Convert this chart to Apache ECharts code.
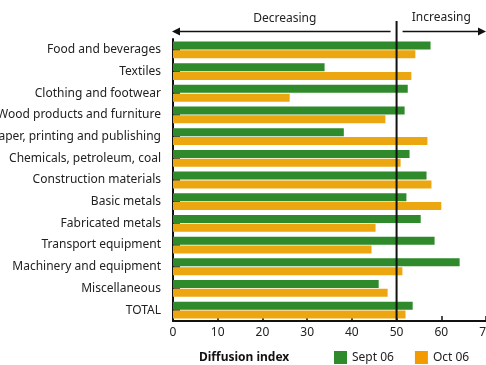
<!DOCTYPE html>
<html>
<head>
<meta charset="utf-8">
<script src="https://cdn.jsdelivr.net/npm/echarts@6/dist/echarts.min.js"></script>
<style>
    html, body { margin: 0; padding: 0; background: #fff; }
    #chart { width: 486px; height: 365px; }
</style>
</head>
<body>
<div id="chart"></div>
<script>
var categories = ["Food and beverages", "Textiles", "Clothing and footwear", "Wood products and furniture",
    "Paper, printing and publishing", "Chemicals, petroleum, coal", "Construction materials", "Basic metals",
    "Fabricated metals", "Transport equipment", "Machinery and equipment", "Miscellaneous", "TOTAL"];
var sept06 = [57.6, 33.9, 52.5, 51.8, 38.2, 52.9, 56.7, 52.2, 55.4, 58.5, 64.1, 46.0, 53.6];
var oct06 = [54.2, 53.3, 26.1, 47.5, 56.9, 50.9, 57.8, 60.0, 45.3, 44.4, 51.3, 48.0, 52.0];
var xTicks = [0, 10, 20, 30, 40, 50, 60, 70];
var threshold = 50;

var FONT = "Noto Sans";
var GREEN = "#2e8a2a";
var ORANGE = "#eca610";

var chart = echarts.init(document.getElementById("chart"));

chart.setOption({
    animation: false,
    textStyle: {fontFamily: FONT},
    grid: {left: 173, right: 0, top: 39, bottom: 44, containLabel: false, outerBoundsMode: "none"},
    xAxis: {
        type: "value",
        min: xTicks[0],
        max: xTicks[xTicks.length - 1],
        interval: 10,
        splitLine: {show: false},
        axisLine: {show: true, lineStyle: {color: "#111", width: 2}},
        axisTick: {show: true, inside: true, length: 5, lineStyle: {color: "#111", width: 1.5}},
        axisLabel: {color: "#222", fontSize: 12, margin: 6, fontFamily: FONT, hideOverlap: false}
    },
    yAxis: {
        type: "category",
        data: categories,
        inverse: true,
        axisLine: {show: true, lineStyle: {color: "#111", width: 2}},
        axisTick: {show: true, inside: true, alignWithLabel: true, length: 7, lineStyle: {color: "#111", width: 1.5}},
        axisLabel: {color: "#222", fontSize: 12, margin: 12, fontFamily: FONT}
    },
    legend: {
        left: 334,
        top: 351,
        padding: 0,
        itemWidth: 13,
        itemHeight: 13,
        itemGap: 21,
        icon: "rect",
        textStyle: {color: "#222", fontSize: 12, fontFamily: FONT},
        data: [
            {name: "Sept 06", itemStyle: {color: "#2f8a2b"}},
            {name: "Oct 06", itemStyle: {color: "#f39a00"}}
        ]
    },
    series: [
        {name: "Sept 06", type: "bar", data: sept06, barWidth: 8, barGap: "10%", itemStyle: {color: GREEN}},
        {name: "Oct 06", type: "bar", data: oct06, barWidth: 8, itemStyle: {color: ORANGE}}
    ]
});

// annotations: threshold line and the decreasing / increasing arrows
var x0 = chart.convertToPixel({xAxisIndex: 0}, xTicks[0]);
var x50 = chart.convertToPixel({xAxisIndex: 0}, threshold);
var xEnd = chart.convertToPixel({xAxisIndex: 0}, xTicks[xTicks.length - 1]);
var yBottom = 365 - 44;
var yArrow = 31.5;

chart.setOption({
    graphic: [
        {type: "line", z: 100, shape: {x1: x50, y1: 21, x2: x50, y2: yBottom}, style: {stroke: "#111", lineWidth: 2}},
        {type: "line", z: 100, shape: {x1: x0 + 4, y1: yArrow, x2: x50 - 6, y2: yArrow}, style: {stroke: "#111", lineWidth: 1.5}},
        {type: "polygon", z: 100, shape: {points: [[x0 - 1, yArrow], [x0 + 7, yArrow - 4], [x0 + 7, yArrow + 4]]}, style: {fill: "#111"}},
        {type: "line", z: 100, shape: {x1: x50 + 6, y1: yArrow, x2: xEnd - 5, y2: yArrow}, style: {stroke: "#111", lineWidth: 1.5}},
        {type: "polygon", z: 100, shape: {points: [[xEnd, yArrow], [xEnd - 8, yArrow - 4], [xEnd - 8, yArrow + 4]]}, style: {fill: "#111"}},
        {type: "text", z: 100, x: (x0 + x50) / 2, y: 19, style: {text: "Decreasing", fill: "#222", font: "12px " + FONT, textAlign: "center", textVerticalAlign: "middle"}},
        {type: "text", z: 100, x: (x50 + xEnd) / 2, y: 18, style: {text: "Increasing", fill: "#222", font: "12px " + FONT, textAlign: "center", textVerticalAlign: "middle"}},
        {type: "text", z: 100, x: 199, y: 358, style: {text: "Diffusion index", fill: "#111", font: "bold 12px " + FONT, textAlign: "left", textVerticalAlign: "middle"}}
    ]
});
</script>
</body>
</html>
